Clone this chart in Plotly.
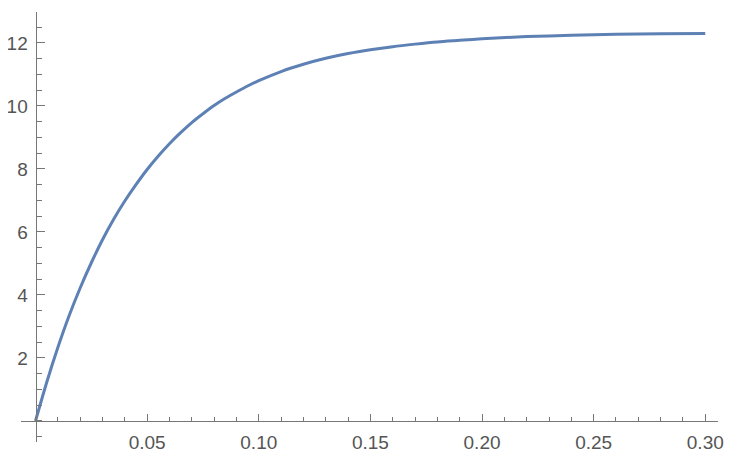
import plotly.graph_objects as go

# values
x_vals = [0, 0.005, 0.01, 0.015, 0.02, 0.025, 0.03, 0.035, 0.04, 0.045, 0.05,
          0.055, 0.06, 0.065, 0.07, 0.075, 0.08, 0.085, 0.09, 0.095, 0.10,
          0.11, 0.12, 0.13, 0.14, 0.15, 0.16, 0.17, 0.18, 0.19, 0.20,
          0.22, 0.24, 0.26, 0.28, 0.30]
y_vals = [0, 1.22, 2.33, 3.33, 4.22, 5.02, 5.75, 6.4, 6.98, 7.5, 7.98,
          8.41, 8.8, 9.15, 9.47, 9.75, 10.01, 10.24, 10.44, 10.63, 10.8,
          11.09, 11.32, 11.51, 11.66, 11.78, 11.88, 11.96, 12.03, 12.08, 12.13,
          12.2, 12.24, 12.27, 12.29, 12.3]

x_ticks = [0.05, 0.10, 0.15, 0.20, 0.25, 0.30]
y_ticks = [2, 4, 6, 8, 10, 12]

x_range = [-0.0065, 0.3057]
y_range = [-0.67, 12.98]

axis_color = "#777777"
text_color = "#555555"

fig = go.Figure()
fig.add_trace(go.Scatter(
    x=x_vals, y=y_vals,
    mode="lines",
    line=dict(color="#5E81B5", width=3, shape="spline", smoothing=0.8),
    showlegend=False,
))

# axes cross at the origin, Mathematica style
x_pos = (0 - y_range[0]) / (y_range[1] - y_range[0])
y_pos = (0 - x_range[0]) / (x_range[1] - x_range[0])

# page body adds 8px around the figure, so the figure is 16px smaller
fig.update_layout(
    width=728, height=452,
    margin=dict(l=13, r=18, t=4, b=18),
    paper_bgcolor="white",
    plot_bgcolor="white",
    font=dict(family="Liberation Sans, Arial, sans-serif", size=19, color=text_color),
    xaxis=dict(
        range=x_range, automargin=False,
        anchor="free", position=x_pos,
        showgrid=False, zeroline=False,
        showline=True, linecolor=axis_color, linewidth=1,
        tickvals=x_ticks, tickformat=".2f",
        ticks="inside", ticklen=7, tickcolor=axis_color, tickwidth=1,
        ticklabelstandoff=4,
        minor=dict(dtick=0.01, tick0=0, ticks="inside", ticklen=4,
                   tickcolor=axis_color, showgrid=False),
    ),
    yaxis=dict(
        range=y_range, automargin=False,
        anchor="free", position=y_pos,
        showgrid=False, zeroline=False,
        showline=True, linecolor=axis_color, linewidth=1,
        tickvals=y_ticks,
        ticks="inside", ticklen=8, tickcolor=axis_color, tickwidth=1,
        ticklabelstandoff=4,
        minor=dict(dtick=0.5, tick0=0, ticks="inside", ticklen=5,
                   tickcolor=axis_color, showgrid=False),
    ),
)

fig.write_html("out.html")
